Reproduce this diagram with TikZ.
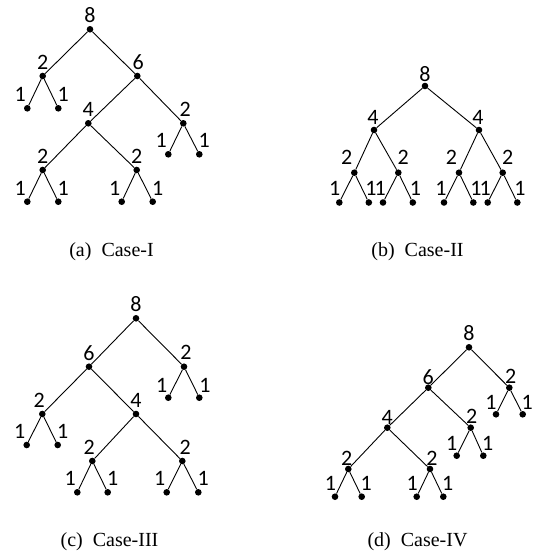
\documentclass[tikz,border=0pt]{standalone}
\usepackage{fontspec}
\setmainfont{Liberation Serif}
\newfontfamily\digitfont{Carlito}
\usetikzlibrary{calc}
\newcommand\tn[4]{\node[dot] (#1) at (#2) {}; \node[lbl] at ($(#1)+(#3)$) {#4};}
\begin{document}
\begin{tikzpicture}[x=1pt,y=-1pt,
  dot/.style={circle,fill=black,inner sep=0pt,minimum size=6.6pt},
  lbl/.style={inner sep=0pt,font=\digitfont\fontsize{22}{22}\selectfont},
  captext/.style={anchor=base,inner sep=0pt,font=\fontsize{20}{24}\selectfont},
  treeedge/.style={line width=0.9pt}]
\useasboundingbox (0,0) rectangle (536,554);

% ---------- (a) Case-I ----------
\tn{a}{90,29.3}{0,-14}{8}
\tn{al}{42.7,76}{0,-14}{2}
\tn{ar}{137.3,76}{1,-14}{6}
\tn{all}{27.3,108.3}{-7,-13.5}{1}
\tn{alr}{58.3,108.3}{5,-13.5}{1}
\tn{arl}{88.3,123.3}{0,-14}{4}
\tn{arr}{183.3,123.3}{2,-14}{2}
\tn{arrl}{168.3,154.3}{-7,-13.5}{1}
\tn{arrr}{199.3,154.3}{5,-13.5}{1}
\tn{arll}{42.7,170}{0,-14}{2}
\tn{arlr}{136.7,170}{0,-14}{2}
\tn{arlll}{27.3,201.7}{-7,-13.5}{1}
\tn{arllr}{58.3,201.7}{5,-13.5}{1}
\tn{arlrl}{121.7,201.7}{-7,-13.5}{1}
\tn{arlrr}{152.7,201.7}{5,-13.5}{1}
\draw[treeedge] (a) -- (al) (a) -- (ar) (al) -- (all) (al) -- (alr)
  (ar) -- (arl) (ar) -- (arr) (arr) -- (arrl) (arr) -- (arrr)
  (arl) -- (arll) (arl) -- (arlr) (arll) -- (arlll) (arll) -- (arllr)
  (arlr) -- (arlrl) (arlr) -- (arlrr);

% ---------- (b) Case-II ----------
\tn{b}{425,86}{0,-12}{8}
\tn{bl}{374,130}{-1,-12.5}{4}
\tn{br}{479,130}{-1,-12.5}{4}
\tn{bll}{354.3,172.7}{-7.5,-15}{2}
\tn{blr}{398.3,172.7}{5,-15}{2}
\tn{brl}{459,172.7}{-7.5,-15}{2}
\tn{brr}{502.7,172.7}{5,-15}{2}
\tn{blll}{339.3,202.5}{-4.5,-14}{1}
\tn{bllr}{368.8,202.5}{2.2,-14}{1}
\tn{blrl}{383,202.5}{-2.7,-14}{1}
\tn{blrr}{412.8,202.5}{2.7,-14}{1}
\tn{brll}{444,202.5}{-3,-14}{1}
\tn{brlr}{473.3,202.5}{2.7,-14}{1}
\tn{brrl}{487.7,202.5}{-2.4,-14}{1}
\tn{brrr}{517.3,202.5}{2.7,-14}{1}
\draw[treeedge] (b) -- (bl) (b) -- (br) (bl) -- (bll) (bl) -- (blr)
  (br) -- (brl) (br) -- (brr)
  (bll) -- (blll) (bll) -- (bllr) (blr) -- (blrl) (blr) -- (blrr)
  (brl) -- (brll) (brl) -- (brlr) (brr) -- (brrl) (brr) -- (brrr);

% ---------- (c) Case-III ----------
\tn{c}{136,318.3}{0,-14}{8}
\tn{cl}{89,366.7}{0,-14}{6}
\tn{cr}{184,366.7}{2,-14}{2}
\tn{crl}{168.3,397.7}{-6.6,-12.7}{1}
\tn{crr}{199.3,397.7}{5.7,-12.7}{1}
\tn{cll}{42.3,414}{-3,-14}{2}
\tn{clr}{136,414}{0,-14}{4}
\tn{clll}{26.7,445}{-7,-13.5}{1}
\tn{cllr}{57.7,445}{5,-13.5}{1}
\tn{clrl}{92.3,461}{-3,-14}{2}
\tn{clrr}{182.3,461}{3,-14}{2}
\tn{clrll}{77.3,492.3}{-7,-13.5}{1}
\tn{clrlr}{107.7,492.3}{5,-13.5}{1}
\tn{clrrl}{166.7,492.3}{-7,-13.5}{1}
\tn{clrrr}{198.3,492.3}{5,-13.5}{1}
\draw[treeedge] (c) -- (cl) (c) -- (cr) (cr) -- (crl) (cr) -- (crr)
  (cl) -- (cll) (cl) -- (clr) (cll) -- (clll) (cll) -- (cllr)
  (clr) -- (clrl) (clr) -- (clrr) (clrl) -- (clrll) (clrl) -- (clrlr)
  (clrr) -- (clrrl) (clrr) -- (clrrr);

% ---------- (d) Case-IV ----------
\tn{d}{469,347.3}{0,-14}{8}
\tn{dl}{428.3,387.7}{0,-10.5}{6}
\tn{dr}{509.3,387.7}{1.5,-11}{2}
\tn{drl}{496,414.3}{-5,-12}{1}
\tn{drr}{522.7,414.3}{4.5,-12}{1}
\tn{dll}{387.3,427.7}{0,-10.5}{4}
\tn{dlr}{470.7,427.7}{1,-11}{2}
\tn{dlrl}{456.7,455.7}{-5,-12.5}{1}
\tn{dlrr}{483.3,455.7}{4.5,-12.5}{1}
\tn{dlll}{348.3,469}{-1.5,-11}{2}
\tn{dllr}{430,469}{2,-11}{2}
\tn{dllll}{335,496.7}{-4.5,-13}{1}
\tn{dlllr}{361.7,496.7}{4.5,-13}{1}
\tn{dllrl}{416.7,496.7}{-4.5,-13}{1}
\tn{dllrr}{443.3,496.7}{4.5,-13}{1}
\draw[treeedge] (d) -- (dl) (d) -- (dr) (dr) -- (drl) (dr) -- (drr)
  (dl) -- (dll) (dl) -- (dlr) (dlr) -- (dlrl) (dlr) -- (dlrr)
  (dll) -- (dlll) (dll) -- (dllr) (dlll) -- (dllll) (dlll) -- (dlllr)
  (dllr) -- (dllrl) (dllr) -- (dllrr);

% ---------- captions ----------
\node[captext] (capa) at (111.5,256.5) {(a)\enspace Case-I};
\node[captext] (capb) at (417.5,256.5) {(b)\enspace Case-II};
\node[captext] (capc) at (109.5,546) {(c)\enspace Case-III};
\node[captext] (capd) at (417.5,546) {(d)\enspace Case-IV};
\end{tikzpicture}
\end{document}
